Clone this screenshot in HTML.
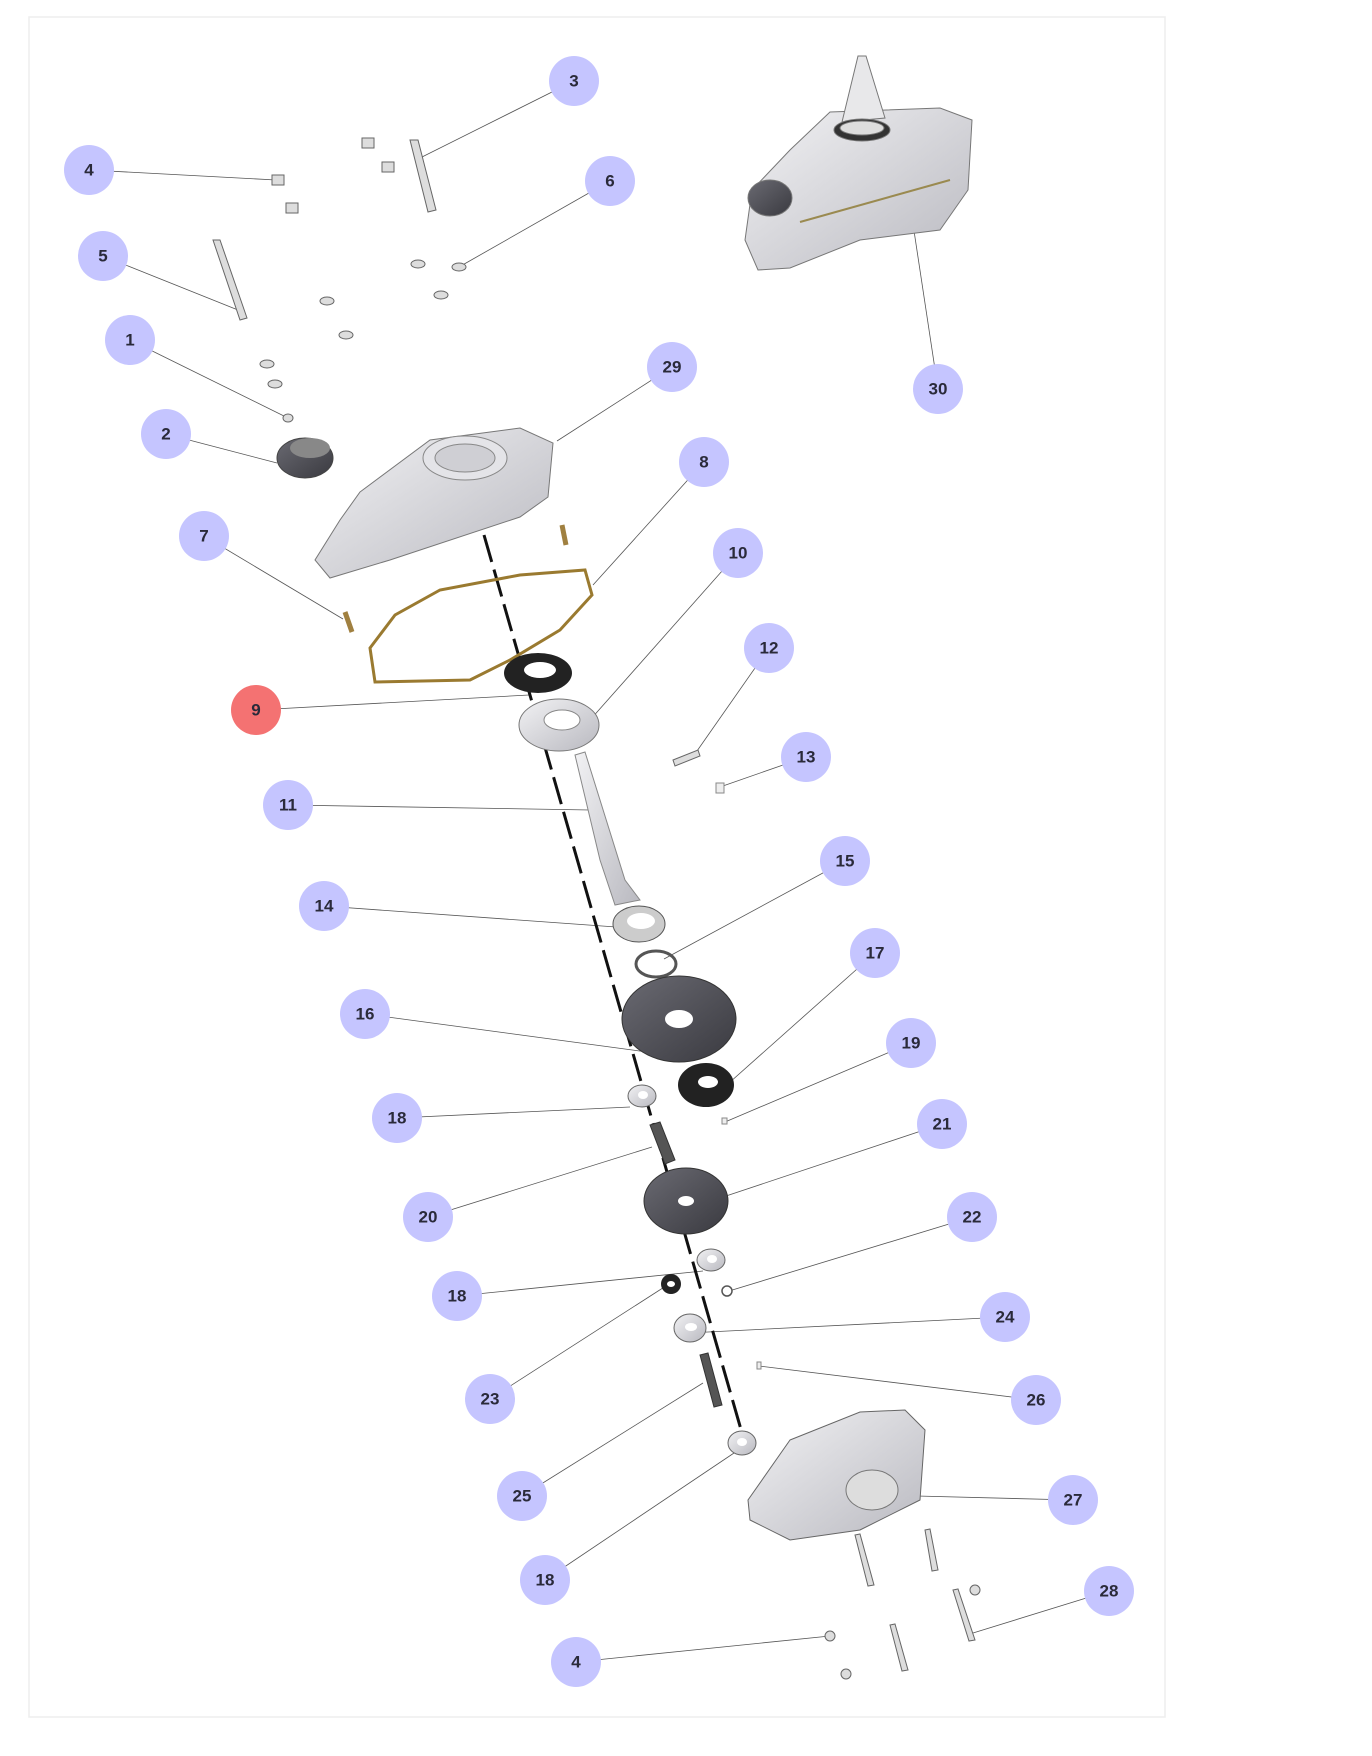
<!DOCTYPE html>
<html><head><meta charset="utf-8"><style>
html,body{margin:0;padding:0;background:#fff;}
svg{display:block;}
text{font-family:"Liberation Sans",sans-serif;font-weight:bold;font-size:17px;fill:#2a2a3a;text-anchor:middle;dominant-baseline:central;}
</style></head><body>
<svg width="1372" height="1756" viewBox="0 0 1372 1756" xmlns="http://www.w3.org/2000/svg">
<rect x="29" y="17" width="1136" height="1700" fill="#fff" stroke="#eeeeee" stroke-width="1.5"/>
<defs>
<linearGradient id="mg" x1="0" y1="0" x2="1" y2="1"><stop offset="0" stop-color="#f2f2f4"/><stop offset="1" stop-color="#b9b9c0"/></linearGradient>
<linearGradient id="dk" x1="0" y1="0" x2="1" y2="1"><stop offset="0" stop-color="#6a6a72"/><stop offset="1" stop-color="#3a3a40"/></linearGradient>
</defs>
<!-- leader lines -->
<g stroke="#555" stroke-width="0.8" fill="none">
<line x1="574" y1="81" x2="422" y2="157"/>
<line x1="89" y1="170" x2="276" y2="180"/>
<line x1="610" y1="181" x2="459" y2="267"/>
<line x1="103" y1="256" x2="238" y2="310"/>
<line x1="130" y1="340" x2="288" y2="418"/>
<line x1="672" y1="367" x2="557" y2="441"/>
<line x1="938" y1="389" x2="911" y2="211"/>
<line x1="166" y1="434" x2="277" y2="463"/>
<line x1="704" y1="462" x2="593" y2="585"/>
<line x1="204" y1="536" x2="343" y2="619"/>
<line x1="738" y1="553" x2="590" y2="720"/>
<line x1="769" y1="648" x2="697" y2="751"/>
<line x1="256" y1="710" x2="529" y2="695"/>
<line x1="806" y1="757" x2="720" y2="787"/>
<line x1="288" y1="805" x2="590" y2="810"/>
<line x1="845" y1="861" x2="664" y2="959"/>
<line x1="324" y1="906" x2="630" y2="928"/>
<line x1="875" y1="953" x2="720" y2="1091"/>
<line x1="365" y1="1014" x2="647" y2="1052"/>
<line x1="911" y1="1043" x2="725" y2="1122"/>
<line x1="397" y1="1118" x2="630" y2="1107"/>
<line x1="942" y1="1124" x2="720" y2="1198"/>
<line x1="428" y1="1217" x2="652" y2="1147"/>
<line x1="972" y1="1217" x2="729" y2="1291"/>
<line x1="457" y1="1296" x2="703" y2="1271"/>
<line x1="1005" y1="1317" x2="688" y2="1333"/>
<line x1="490" y1="1399" x2="669" y2="1284"/>
<line x1="1036" y1="1400" x2="759" y2="1366"/>
<line x1="522" y1="1496" x2="703" y2="1383"/>
<line x1="1073" y1="1500" x2="917" y2="1496"/>
<line x1="545" y1="1580" x2="737" y2="1451"/>
<line x1="1109" y1="1591" x2="973" y2="1633"/>
<line x1="576" y1="1662" x2="830" y2="1636"/>
</g>
<!-- axis dashed -->
<line x1="484" y1="535" x2="744" y2="1440" stroke="#111" stroke-width="3" stroke-dasharray="28 8"/>
<!-- top right assembled gearbox -->
<g stroke="#777" stroke-width="1">
<polygon points="752,190 790,150 830,112 940,108 972,120 968,190 940,230 860,240 790,268 758,270 745,240" fill="url(#mg)"/>
<path d="M800,222 L950,180" stroke="#9a8a50" stroke-width="2" fill="none"/>
<polygon points="858,56 866,56 885,118 842,122" fill="#e8e8ea"/>
<ellipse cx="862" cy="130" rx="28" ry="11" fill="#333"/>
<ellipse cx="862" cy="128" rx="22" ry="7" fill="#ddd"/>
<ellipse cx="770" cy="198" rx="22" ry="18" fill="url(#dk)"/>
</g>
<!-- small hardware top -->
<g fill="#ddd" stroke="#666" stroke-width="1">
<rect x="362" y="138" width="12" height="10"/><rect x="382" y="162" width="12" height="10"/>
<rect x="272" y="175" width="12" height="10"/><rect x="286" y="203" width="12" height="10"/>
<polygon points="410,140 418,140 436,210 428,212"/>
<polygon points="213,240 220,240 247,318 240,320"/>
<ellipse cx="418" cy="264" rx="7" ry="4"/><ellipse cx="459" cy="267" rx="7" ry="4"/>
<ellipse cx="327" cy="301" rx="7" ry="4"/><ellipse cx="441" cy="295" rx="7" ry="4"/>
<ellipse cx="346" cy="335" rx="7" ry="4"/><ellipse cx="267" cy="364" rx="7" ry="4"/>
<ellipse cx="275" cy="384" rx="7" ry="4"/><ellipse cx="288" cy="418" rx="5" ry="4"/>
</g>
<!-- pulley 2 -->
<ellipse cx="305" cy="458" rx="28" ry="20" fill="url(#dk)" stroke="#444"/>
<ellipse cx="310" cy="448" rx="20" ry="10" fill="#888"/>
<!-- housing 29 -->
<polygon points="360,492 430,440 520,428 553,443 548,497 520,517 390,560 330,578 315,560 340,520" fill="url(#mg)" stroke="#777"/>
<ellipse cx="465" cy="458" rx="42" ry="22" fill="#e4e4e8" stroke="#888"/>
<ellipse cx="465" cy="458" rx="30" ry="14" fill="#cfcfd4" stroke="#888"/>
<!-- pins -->
<line x1="562" y1="525" x2="566" y2="545" stroke="#a08040" stroke-width="5"/>
<line x1="345" y1="612" x2="352" y2="632" stroke="#a08040" stroke-width="5"/>
<!-- gasket 8 -->
<polygon points="370,648 395,615 440,590 520,575 585,570 592,595 560,630 510,660 470,680 375,682" fill="none" stroke="#9a7a30" stroke-width="3"/>
<!-- seal 9 -->
<ellipse cx="538" cy="673" rx="34" ry="20" fill="#222"/><ellipse cx="540" cy="670" rx="16" ry="8" fill="#fff"/>
<!-- bearing 10 -->
<ellipse cx="559" cy="725" rx="40" ry="26" fill="url(#mg)" stroke="#777"/><ellipse cx="562" cy="720" rx="18" ry="10" fill="#fff" stroke="#888"/>
<!-- 12,13 -->
<polygon points="673,760 698,750 700,756 675,766" fill="#ddd" stroke="#666"/>
<rect x="716" y="783" width="8" height="10" fill="#eee" stroke="#888"/>
<!-- shaft 11 -->
<polygon points="575,755 585,752 625,880 640,900 615,905 600,860" fill="url(#mg)" stroke="#888"/>
<!-- 14,15 -->
<ellipse cx="639" cy="924" rx="26" ry="18" fill="#ccc" stroke="#555"/><ellipse cx="641" cy="921" rx="14" ry="8" fill="#fff"/>
<ellipse cx="656" cy="964" rx="20" ry="13" fill="none" stroke="#555" stroke-width="3"/>
<!-- disk 16 -->
<ellipse cx="679" cy="1019" rx="57" ry="43" fill="url(#dk)" stroke="#333"/>
<ellipse cx="679" cy="1019" rx="14" ry="9" fill="#fff"/>
<!-- 17 -->
<ellipse cx="706" cy="1085" rx="28" ry="22" fill="#222"/><ellipse cx="708" cy="1082" rx="10" ry="6" fill="#fff"/>
<!-- 19 -->
<rect x="722" y="1118" width="5" height="6" fill="#eee" stroke="#888"/>
<!-- 18 -->
<ellipse cx="642" cy="1096" rx="14" ry="11" fill="url(#mg)" stroke="#666"/><ellipse cx="643" cy="1095" rx="5" ry="4" fill="#fff"/>
<!-- 20 -->
<polygon points="650,1125 660,1122 675,1160 665,1164" fill="#555" stroke="#333"/>
<!-- disk 21 -->
<ellipse cx="686" cy="1201" rx="42" ry="33" fill="url(#dk)" stroke="#333"/><ellipse cx="686" cy="1201" rx="8" ry="5" fill="#fff"/>
<!-- 18,22,23,24 -->
<ellipse cx="711" cy="1260" rx="14" ry="11" fill="url(#mg)" stroke="#666"/><ellipse cx="712" cy="1259" rx="5" ry="4" fill="#fff"/>
<circle cx="727" cy="1291" r="5" fill="#fff" stroke="#555" stroke-width="1.5"/>
<ellipse cx="671" cy="1284" rx="10" ry="10" fill="#222"/><ellipse cx="671" cy="1284" rx="4" ry="3" fill="#fff"/>
<ellipse cx="690" cy="1328" rx="16" ry="14" fill="url(#mg)" stroke="#666"/><ellipse cx="691" cy="1327" rx="6" ry="4" fill="#fff"/>
<!-- 25, 26 -->
<polygon points="700,1355 708,1353 722,1405 714,1407" fill="#555" stroke="#333"/>
<rect x="757" y="1362" width="4" height="7" fill="#eee" stroke="#888"/>
<ellipse cx="742" cy="1443" rx="14" ry="12" fill="url(#mg)" stroke="#666"/><ellipse cx="742" cy="1442" rx="5" ry="4" fill="#fff"/>
<!-- cover 27 -->
<polygon points="790,1440 860,1412 905,1410 925,1430 920,1500 860,1530 790,1540 750,1520 748,1500" fill="url(#mg)" stroke="#666"/>
<ellipse cx="872" cy="1490" rx="26" ry="20" fill="#ddd" stroke="#777"/>
<!-- bolts -->
<g fill="#ddd" stroke="#666">
<polygon points="855,1535 860,1534 874,1585 868,1586"/>
<polygon points="925,1530 930,1529 938,1570 932,1571"/>
<polygon points="953,1590 958,1589 975,1640 969,1641"/>
<polygon points="890,1625 895,1624 908,1670 902,1671"/>
<ellipse cx="975" cy="1590" rx="5" ry="5"/><ellipse cx="830" cy="1636" rx="5" ry="5"/><ellipse cx="846" cy="1674" rx="5" ry="5"/>
</g>
<!-- callouts -->
<g fill="#c5c5ff">
<circle cx="574" cy="81" r="25"/><circle cx="89" cy="170" r="25"/><circle cx="610" cy="181" r="25"/>
<circle cx="103" cy="256" r="25"/><circle cx="130" cy="340" r="25"/><circle cx="672" cy="367" r="25"/>
<circle cx="938" cy="389" r="25"/><circle cx="166" cy="434" r="25"/><circle cx="704" cy="462" r="25"/>
<circle cx="204" cy="536" r="25"/><circle cx="738" cy="553" r="25"/><circle cx="769" cy="648" r="25"/>
<circle cx="806" cy="757" r="25"/><circle cx="288" cy="805" r="25"/><circle cx="845" cy="861" r="25"/>
<circle cx="324" cy="906" r="25"/><circle cx="875" cy="953" r="25"/><circle cx="365" cy="1014" r="25"/>
<circle cx="911" cy="1043" r="25"/><circle cx="397" cy="1118" r="25"/><circle cx="942" cy="1124" r="25"/>
<circle cx="428" cy="1217" r="25"/><circle cx="972" cy="1217" r="25"/><circle cx="457" cy="1296" r="25"/>
<circle cx="1005" cy="1317" r="25"/><circle cx="490" cy="1399" r="25"/><circle cx="1036" cy="1400" r="25"/>
<circle cx="522" cy="1496" r="25"/><circle cx="1073" cy="1500" r="25"/><circle cx="545" cy="1580" r="25"/>
<circle cx="1109" cy="1591" r="25"/><circle cx="576" cy="1662" r="25"/>
</g>
<circle cx="256" cy="710" r="25" fill="#f47272"/>
<text x="574" y="81">3</text><text x="89" y="170">4</text><text x="610" y="181">6</text>
<text x="103" y="256">5</text><text x="130" y="340">1</text><text x="672" y="367">29</text>
<text x="938" y="389">30</text><text x="166" y="434">2</text><text x="704" y="462">8</text>
<text x="204" y="536">7</text><text x="738" y="553">10</text><text x="769" y="648">12</text>
<text x="256" y="710">9</text><text x="806" y="757">13</text><text x="288" y="805">11</text>
<text x="845" y="861">15</text><text x="324" y="906">14</text><text x="875" y="953">17</text>
<text x="365" y="1014">16</text><text x="911" y="1043">19</text><text x="397" y="1118">18</text>
<text x="942" y="1124">21</text><text x="428" y="1217">20</text><text x="972" y="1217">22</text>
<text x="457" y="1296">18</text><text x="1005" y="1317">24</text><text x="490" y="1399">23</text>
<text x="1036" y="1400">26</text><text x="522" y="1496">25</text><text x="1073" y="1500">27</text>
<text x="545" y="1580">18</text><text x="1109" y="1591">28</text><text x="576" y="1662">4</text>
</svg>
</body></html>
